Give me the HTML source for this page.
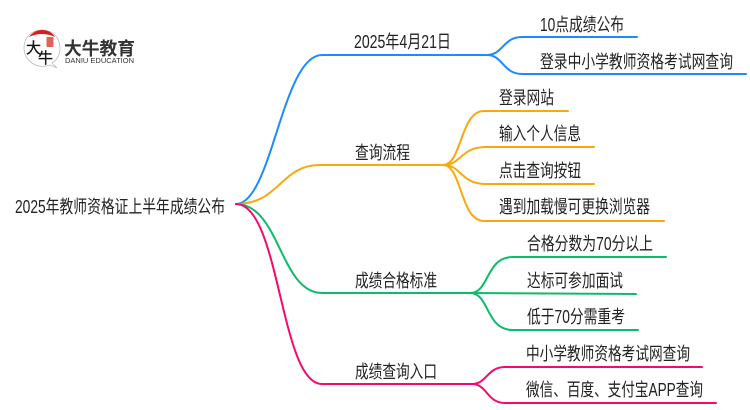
<!DOCTYPE html>
<html><head><meta charset="utf-8"><style>
html,body{margin:0;padding:0;background:#fff;width:750px;height:410px;overflow:hidden}
svg{display:block}
text{font-family:"Liberation Sans","Noto Sans CJK SC",sans-serif;font-size:18px;fill:#222}
path{fill:none;stroke-width:2;stroke-linecap:round}
</style></head><body>
<svg width="750" height="410" viewBox="0 0 750 410" xmlns="http://www.w3.org/2000/svg">
<path d="M236,204 C272,204 282,55 322,55 L487,55" stroke="#1a8cff"/>
<path d="M487,55 C503,55 503,37 522,37 L637,37" stroke="#1a8cff"/>
<path d="M487,55 C503,55 503,74 522,74 L746,74" stroke="#1a8cff"/>
<path d="M236,204 C280,204 280,165 320,165 L443,165" stroke="#f9a80e"/>
<path d="M443,165 C462,165 460,111 484,111 L568,111" stroke="#f9a80e"/>
<path d="M443,165 C462,165 460,147 486,147 L594,147" stroke="#f9a80e"/>
<path d="M443,165 C462,165 460,184 486,184 L594,184" stroke="#f9a80e"/>
<path d="M443,165 C462,165 460,221 484,221 L664,221" stroke="#f9a80e"/>
<path d="M236,204 C280,204 280,293 322,293 L470,293" stroke="#0dbb6b"/>
<path d="M470,293 C490,293 485,257 513,257 L666,257" stroke="#0dbb6b"/>
<path d="M470,293 L636,294" stroke="#0dbb6b"/>
<path d="M470,293 C490,293 485,330 513,330 L638,330" stroke="#0dbb6b"/>
<path d="M236,204 C280,204 280,384 322,384 L472,384" stroke="#f8086e"/>
<path d="M472,384 C487,384 487,367 505,367 L702,367" stroke="#f8086e"/>
<path d="M472,384 C487,384 487,403 505,403 L716,403" stroke="#f8086e"/>

<text x="15" y="213" textLength="210" lengthAdjust="spacingAndGlyphs">2025年教师资格证上半年成绩公布</text>
<text x="354" y="48" textLength="97" lengthAdjust="spacingAndGlyphs">2025年4月21日</text>
<text x="355" y="159" textLength="55" lengthAdjust="spacingAndGlyphs">查询流程</text>
<text x="355" y="287" textLength="82" lengthAdjust="spacingAndGlyphs">成绩合格标准</text>
<text x="355" y="378" textLength="82" lengthAdjust="spacingAndGlyphs">成绩查询入口</text>
<text x="540" y="31" textLength="84" lengthAdjust="spacingAndGlyphs">10点成绩公布</text>
<text x="540" y="68" textLength="193" lengthAdjust="spacingAndGlyphs">登录中小学教师资格考试网查询</text>
<text x="499" y="104" textLength="55" lengthAdjust="spacingAndGlyphs">登录网站</text>
<text x="499" y="140" textLength="82" lengthAdjust="spacingAndGlyphs">输入个人信息</text>
<text x="499" y="177" textLength="82" lengthAdjust="spacingAndGlyphs">点击查询按钮</text>
<text x="499" y="213" textLength="151" lengthAdjust="spacingAndGlyphs">遇到加载慢可更换浏览器</text>
<text x="527" y="250" textLength="126" lengthAdjust="spacingAndGlyphs">合格分数为70分以上</text>
<text x="527" y="287" textLength="96" lengthAdjust="spacingAndGlyphs">达标可参加面试</text>
<text x="527" y="323" textLength="98" lengthAdjust="spacingAndGlyphs">低于70分需重考</text>
<text x="526" y="360" textLength="164" lengthAdjust="spacingAndGlyphs">中小学教师资格考试网查询</text>
<text x="526" y="396" textLength="177" lengthAdjust="spacingAndGlyphs">微信、百度、支付宝APP查询</text>

<!-- logo -->
<path d="M50,65 C36,70 24,60 24,48 C24,37 32,30 42,30 C53,30 60,38 60,48 C60,55 57,60 52,63 L57,68 Z" style="fill:#fff;stroke:#bbb;stroke-width:.8"/>
<path d="M29,37 C33,32 37,30 42,30 C47,30 52,32 55,37 C47,33 37,33 29,37 Z" style="fill:#d81e1e;stroke:none"/>
<rect x="46.5" y="37" width="7" height="10" rx="1" fill="#e0605c"/>
<text x="26" y="53" style="font-size:15px;fill:#111;stroke:#111;stroke-width:.3">大</text>
<text x="38" y="63" style="font-size:15px;fill:#111;stroke:#111;stroke-width:.3">牛</text>
<text x="64" y="55" textLength="71" lengthAdjust="spacingAndGlyphs" style="font-size:18px;font-weight:bold;fill:#333">大牛教育</text>
<text x="65" y="63" textLength="69" lengthAdjust="spacingAndGlyphs" style="font-size:7px;fill:#333">DANIU EDUCATION</text>
</svg>
</body></html>
